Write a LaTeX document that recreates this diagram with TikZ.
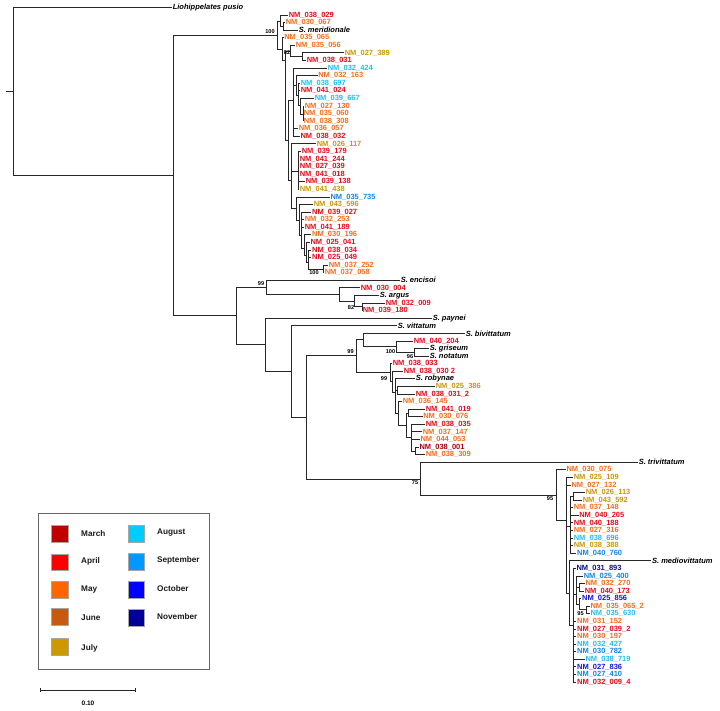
\documentclass[tikz,border=0pt]{standalone}
\usepackage{fontspec}
\setmainfont{Liberation Sans}
\usetikzlibrary{calc}
\definecolor{cMar}{RGB}{192,0,0}
\definecolor{cApr}{RGB}{255,0,0}
\definecolor{cMay}{RGB}{255,102,0}
\definecolor{cJun}{RGB}{197,90,17}
\definecolor{cJul}{RGB}{204,153,0}
\definecolor{cAug}{RGB}{0,204,255}
\definecolor{cSep}{RGB}{0,153,255}
\definecolor{cOct}{RGB}{0,0,255}
\definecolor{cNov}{RGB}{0,0,153}
\definecolor{tMar}{RGB}{160,5,15}
\definecolor{tApr}{RGB}{225,12,28}
\definecolor{tMay}{RGB}{240,110,30}
\definecolor{tJul}{RGB}{198,152,8}
\definecolor{tAug}{RGB}{35,190,235}
\definecolor{tSep}{RGB}{18,132,225}
\definecolor{tOct}{RGB}{20,20,210}
\definecolor{tNov}{RGB}{15,15,130}
\tikzset{
  edge/.style={draw=black!85, line width=0.85pt},
  lab/.style={font=\fontsize{7.5}{8}\selectfont\bfseries, inner sep=0.6pt, anchor=west},
  bslab/.style={font=\fontsize{5.6}{6}\selectfont\bfseries, inner sep=0pt, text=black},
  leglab/.style={font=\fontsize{8.2}{9}\selectfont\bfseries, inner sep=0pt, anchor=west, text=black!90},
  swatch/.style={draw=black!35, line width=0.4pt}
}
\newcommand\lf[5]{\coordinate (#1) at ({#2-2},{7.42+7.58*#3}); \node[lab,text=#4] (#1t) at (#1) {#5};}
\newcommand\nd[3]{\coordinate (#1) at (#2,#3);}
\newcommand\br[2]{\foreach \ch in {#2}{\draw[edge] (#1) |- (\ch);}}
\begin{document}
\begin{tikzpicture}[x=1pt,y=-1pt]
\useasboundingbox (0,0) rectangle (720,710);
% ---------------- leaves ----------------
\coordinate (lio) at (172,7.5); \node[lab,text=black] (liot) at (lio) {\itshape Liohippelates pusio};
\lf{a1}{290}{1}{tApr}{NM\_038\_029}
\lf{a2}{287}{2}{tMay}{NM\_030\_067}
\lf{a3}{300}{3}{black}{\itshape S. meridionale}
\lf{a4}{285.5}{4}{tMay}{NM\_035\_065}
\lf{a5}{297}{5}{tMay}{NM\_035\_056}
\lf{a6}{346}{6}{tJul}{NM\_027\_389}
\lf{a7}{308}{7}{tApr}{NM\_038\_031}
\lf{a8}{329}{8}{tAug}{NM\_032\_424}
\lf{a9}{319.5}{9}{tMay}{NM\_032\_163}
\lf{a10}{302}{10}{tAug}{NM\_038\_697}
\lf{a11}{302}{11}{tApr}{NM\_041\_024}
\lf{a12}{316}{12}{tAug}{NM\_039\_667}
\lf{a13}{306}{13}{tMay}{NM\_027\_130}
\lf{a14}{305}{14}{tMay}{NM\_035\_060}
\lf{a15}{305}{15}{tMay}{NM\_038\_308}
\lf{a16}{300}{16}{tMay}{NM\_036\_057}
\lf{a17}{301.7}{17}{tApr}{NM\_038\_032}
\lf{a18}{318}{18}{tJul}{NM\_026\_117}
\lf{a19}{303}{19}{tApr}{NM\_039\_179}
\lf{a20}{301}{20}{tApr}{NM\_041\_244}
\lf{a21}{301}{21}{tApr}{NM\_027\_039}
\lf{a22}{301}{22}{tApr}{NM\_041\_018}
\lf{a23}{307}{23}{tApr}{NM\_039\_138}
\lf{a24}{301}{24}{tJul}{NM\_041\_438}
\lf{a25}{331.7}{25}{tSep}{NM\_035\_735}
\lf{a26}{315}{26}{tJul}{NM\_043\_596}
\lf{a27}{313.3}{27}{tApr}{NM\_039\_027}
\lf{a28}{306}{28}{tMay}{NM\_032\_253}
\lf{a29}{306}{29}{tApr}{NM\_041\_189}
\lf{a30}{313.3}{30}{tMay}{NM\_030\_196}
\lf{a31}{311.7}{31}{tApr}{NM\_025\_041}
\lf{a32}{313.3}{32}{tApr}{NM\_038\_034}
\lf{a33}{313.3}{33}{tApr}{NM\_025\_049}
\lf{a34}{330}{34}{tMay}{NM\_037\_252}
\lf{a35}{326}{35}{tMay}{NM\_037\_058}
\lf{a36}{402}{36}{black}{\itshape S. encisoi}
\lf{a37}{362}{37}{tApr}{NM\_030\_004}
\lf{a38}{381}{38}{black}{\itshape S. argus}
\lf{a39}{387}{39}{tApr}{NM\_032\_009}
\lf{a40}{364}{40}{tApr}{NM\_039\_180}
\lf{a41}{434}{41}{black}{\itshape S. paynei}
\lf{a42}{399}{42}{black}{\itshape S. vittatum}
\lf{a43}{467}{43}{black}{\itshape S. bivittatum}
\lf{a44}{415}{44}{tApr}{NM\_040\_204}
\lf{a45}{431}{45}{black}{\itshape S. griseum}
\lf{a46}{431}{46}{black}{\itshape S. notatum}
\lf{a47}{394}{47}{tApr}{NM\_038\_033}
\lf{a48}{405}{48}{tApr}{NM\_038\_030 2}
\lf{a49}{417}{49}{black}{\itshape S. robynae}
\lf{a50}{437}{50}{tJul}{NM\_025\_386}
\lf{a51}{417}{51}{tApr}{NM\_038\_031\_2}
\lf{a52}{404}{52}{tMay}{NM\_036\_145}
\lf{a53}{427}{53}{tApr}{NM\_041\_019}
\lf{a54}{424.5}{54}{tMay}{NM\_030\_076}
\lf{a55}{427}{55}{tApr}{NM\_038\_035}
\lf{a56}{424}{56}{tMay}{NM\_037\_147}
\lf{a57}{421.7}{57}{tMay}{NM\_044\_053}
\lf{a58}{420.7}{58}{tMar}{NM\_038\_001}
\lf{a59}{427}{59}{tMay}{NM\_038\_309}
\lf{a60}{640}{60}{black}{\itshape S. trivittatum}
\lf{a61}{567.7}{61}{tMay}{NM\_030\_075}
\lf{a62}{575}{62}{tJul}{NM\_025\_109}
\lf{a63}{572.7}{63}{tMay}{NM\_027\_132}
\lf{a64}{587}{64}{tJul}{NM\_026\_113}
\lf{a65}{584}{65}{tJul}{NM\_043\_592}
\lf{a66}{575}{66}{tMay}{NM\_037\_148}
\lf{a67}{580.5}{67}{tApr}{NM\_040\_205}
\lf{a68}{575}{68}{tApr}{NM\_040\_188}
\lf{a69}{575}{69}{tMay}{NM\_027\_316}
\lf{a70}{575}{70}{tAug}{NM\_038\_696}
\lf{a71}{575}{71}{tJul}{NM\_038\_388}
\lf{a72}{578.3}{72}{tSep}{NM\_040\_760}
\lf{a73}{653.3}{73}{black}{\itshape S. mediovittatum}
\lf{a74}{577.7}{74}{tNov}{NM\_031\_893}
\lf{a75}{585}{75}{tSep}{NM\_025\_400}
\lf{a76}{586.7}{76}{tMay}{NM\_032\_270}
\lf{a77}{586}{77}{tApr}{NM\_040\_173}
\lf{a78}{583.3}{78}{tOct}{NM\_025\_856}
\lf{a79}{591.7}{79}{tMay}{NM\_035\_065\_2}
\lf{a80}{591.7}{80}{tAug}{NM\_035\_630}
\lf{a81}{578.3}{81}{tMay}{NM\_031\_152}
\lf{a82}{578.3}{82}{tApr}{NM\_027\_039\_2}
\lf{a83}{578.3}{83}{tMay}{NM\_030\_197}
\lf{a84}{578.3}{84}{tAug}{NM\_032\_427}
\lf{a85}{578.3}{85}{tSep}{NM\_030\_782}
\lf{a86}{586.7}{86}{tAug}{NM\_038\_719}
\lf{a87}{578.3}{87}{tOct}{NM\_027\_836}
\lf{a88}{578.3}{88}{tSep}{NM\_027\_410}
\lf{a89}{578.3}{89}{tApr}{NM\_032\_009\_4}
% ---------------- internal nodes (top clade) ----------------
\nd{ms}{283}{26.8} \br{ms}{a2,a3}
\nd{nA}{280}{21} \br{nA}{a1,ms}
\nd{n82}{302.5}{56.7} \br{n82}{a6,a7}
\nd{nD}{290.7}{51} \br{nD}{a5,n82}
\nd{g5}{303}{114} \br{g5}{a13,a14,a15}
\nd{g4}{300}{105} \br{g4}{a12,g5}
\nd{g3}{298}{95} \br{g3}{a10,a11,g4}
\nd{g2}{296}{85} \br{g2}{a9,g3}
\nd{g1}{293}{100} \br{g1}{a8,g2,a16,a17}
\nd{nI}{298}{171} \br{nI}{a19,a20,a21,a22,a23,a24}
\nd{j7}{323}{269} \br{j7}{a34,a35}
\nd{j6}{308}{262} \br{j6}{a32,a33,j7}
\nd{j5}{306}{255} \br{j5}{a31,j6}
\nd{j4}{304}{248} \br{j4}{a30,j5}
\nd{j3}{301.7}{235} \br{j3}{a27,a28,a29,j4}
\nd{j2}{299}{220} \br{j2}{a26,j3}
\nd{nJ}{296}{208} \br{nJ}{a25,j2}
\nd{nH}{291.7}{180} \br{nH}{a18,nI,nJ}
\nd{nE}{288}{140} \br{nE}{g1,nH}
\nd{nC}{285}{60} \br{nC}{nD,nE}
\nd{nB}{282}{49} \br{nB}{a4,nC}
\nd{top}{277.7}{35} \br{top}{nA,nB}
% ---------------- encisoi / argus ----------------
\nd{ar3}{362}{306.8} \br{ar3}{a39,a40}
\nd{ar2}{354}{301} \br{ar2}{a38,ar3}
\nd{ar}{339}{294.5} \br{ar}{a37,ar2}
\nd{en}{266}{287} \br{en}{a36,ar}
% ---------------- middle ----------------
\nd{gr}{414}{352} \br{gr}{a45,a46}
\nd{gn}{396}{346} \br{gn}{a44,gr}
\nd{bg}{363}{339} \br{bg}{a43,gn}
\nd{r9}{415}{451} \br{r9}{a58,a59}
\nd{r8}{411.7}{437} \br{r8}{a55,a56,a57,r9}
\nd{r7}{408.3}{413} \br{r7}{a53,a54}
\nd{r6}{406}{425} \br{r6}{r7,r8}
\nd{r5}{398.3}{413} \br{r5}{a52,r6}
\nd{r4}{397}{390} \br{r4}{a50,a51}
\nd{r3}{395}{392} \br{r3}{a49,r4,r5}
\nd{r2}{392.7}{381} \br{r2}{a48,r3}
\nd{rg}{390}{372} \br{rg}{a47,r2}
\nd{n99}{356}{355} \br{n99}{bg,rg}
% ---------------- bottom clade ----------------
\nd{pp}{573.3}{496.3} \br{pp}{a64,a65}
\nd{b3}{570.7}{526} \br{b3}{pp,a66,a67,a68,a69,a70,a71,a72}
\nd{q2}{579.3}{587.7} \br{q2}{a76,a77}
\nd{q3}{586.7}{609.5} \br{q3}{a79,a80}
\nd{q4}{579.3}{604} \br{q4}{a78,q3}
\nd{qq}{576}{594} \br{qq}{a75,q2,q4}
\nd{bb}{573.3}{625} \br{bb}{a74,qq,a81,a82,a83,a84,a85,a86,a87,a88,a89}
\nd{mm}{569.5}{593} \br{mm}{a73,bb}
\nd{b1}{566.7}{520} \br{b1}{a62,a63,b3,mm}
\nd{b0}{556}{495.5} \br{b0}{a61,b1}
\nd{t75}{420}{479} \br{t75}{a60,b0}
\nd{br}{306.7}{417} \br{br}{n99,t75}
\nd{vi}{291.7}{371.4} \br{vi}{a42,br}
\nd{pa}{265}{344} \br{pa}{a41,vi}
\nd{mid}{236}{315.5} \br{mid}{en,pa}
\nd{ing}{173}{175.3} \br{ing}{top,mid}
\nd{root}{13}{91.4} \br{root}{lio,ing}
\coordinate (stub) at (6,91.4); \draw[edge] (stub) -- (root);
% ---------------- support values ----------------
\node[bslab] (s1) at (270,32) {100};
\node[bslab] (s2) at (287,53) {82};
\node[bslab] (s3) at (314,273) {100};
\node[bslab] (s4) at (261,284) {99};
\node[bslab] (s5) at (351,308) {82};
\node[bslab] (s6) at (350.5,352) {99};
\node[bslab] (s7) at (390.5,352) {100};
\node[bslab] (s8) at (410,357) {96};
\node[bslab] (s9) at (384,379) {99};
\node[bslab] (s10) at (415,483) {75};
\node[bslab] (s11) at (550,499) {95};
\node[bslab] (s12) at (580.5,614) {95};
% ---------------- legend ----------------
\draw[draw=black!60, line width=0.9pt] (38.7,513.3) rectangle (209,669.3);
\fill[cMar,swatch] (51,525) rectangle (68,541.7);   \node[leglab] (lmar) at (81,533.3) {March};
\fill[cApr,swatch] (51,553.7) rectangle (68,570.3); \node[leglab] (lapr) at (81,561.3) {April};
\fill[cMay,swatch] (51,581) rectangle (68,598);     \node[leglab] (lmay) at (81,589.3) {May};
\fill[cJun,swatch] (51,608.3) rectangle (68,625);   \node[leglab] (ljun) at (81,617.7) {June};
\fill[cJul,swatch] (51,638.3) rectangle (68,655);   \node[leglab] (ljul) at (81,648) {July};
\fill[cAug,swatch] (127.7,525) rectangle (144.3,541.7);   \node[leglab] (laug) at (157,532.3) {August};
\fill[cSep,swatch] (127.7,553.3) rectangle (144.3,570);   \node[leglab] (lsep) at (157,560.3) {September};
\fill[cOct,swatch] (127.7,581) rectangle (144.3,597.7);   \node[leglab] (loct) at (157,588.7) {October};
\fill[cNov,swatch] (127.7,609.3) rectangle (144.3,625.7); \node[leglab] (lnov) at (157,616.7) {November};
% ---------------- scale bar ----------------
\coordinate (sbl) at (40,690); \coordinate (sbr) at (135,690);
\draw[edge] (sbl) -- (sbr);
\draw[edge] ($(sbl)+(0,-2)$) -- ($(sbl)+(0,2)$);
\draw[edge] ($(sbr)+(0,-2)$) -- ($(sbr)+(0,2)$);
\node[bslab,font=\fontsize{6.5}{7}\selectfont\bfseries] (sbt) at (88,703) {0.10};
\end{tikzpicture}
\end{document}
